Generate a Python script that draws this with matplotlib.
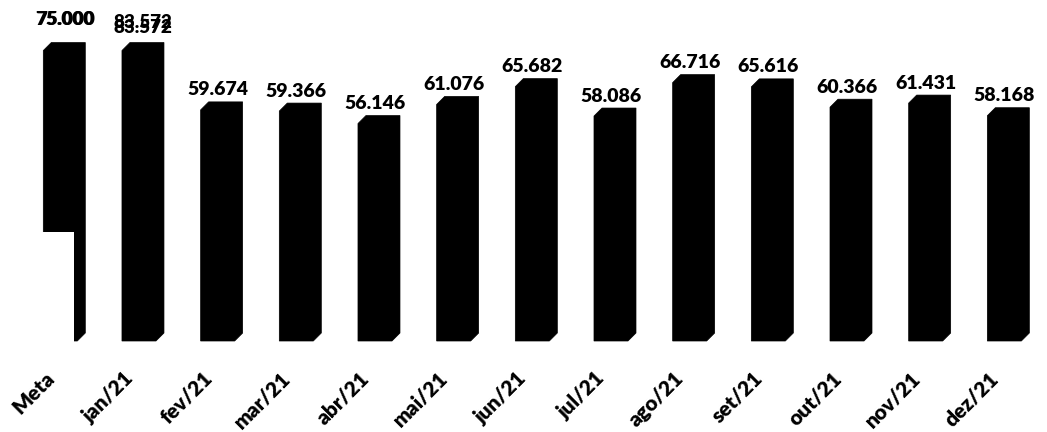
import matplotlib.pyplot as plt
from matplotlib.patches import Polygon, Rectangle

categorias = ['Meta', 'jan/21', 'fev/21', 'mar/21', 'abr/21', 'mai/21', 'jun/21',
              'jul/21', 'ago/21', 'set/21', 'out/21', 'nov/21', 'dez/21']
valores = [75.000, 83.572, 59.674, 59.366, 56.146, 61.076, 65.682,
           58.086, 66.716, 65.616, 60.366, 61.431, 58.168]
rotulos = ['75.000', '83.572', '59.674', '59.366', '56.146', '61.076', '65.682',
           '58.086', '66.716', '65.616', '60.366', '61.431', '58.168']

y_max = 75
fonte = 'Lato'
peso = 'heavy'

fig = plt.figure(figsize=(10.47, 4.32), dpi=100)
ax = fig.add_axes([0, 0, 1, 1])

# escala: 78.67 px por categoria, 3.873 px por unidade
px_x = 78.67
px_y = 3.873
ax.set_xlim(-60.3 / px_x, (1047 - 60.3) / px_x)
ax.set_ylim((333 - 432) / px_y, 333 / px_y)
ax.axis('off')

# profundidade do efeito 3D e largura da face frontal
dx = 8 / px_x
dy = 8 / px_y
w = 34 / px_x

for i, v in enumerate(valores):
    h = min(v, y_max)
    xl, xr = i - w / 2, i + w / 2
    pts = [(xl, -dy), (xl, h - dy), (xl + dx, h), (xr + dx, h), (xr + dx, 0), (xr, -dy)]
    ax.add_patch(Polygon(pts, closed=True, fc='black', ec='black', lw=0.5, zorder=2))

# parte de baixo da coluna Meta fica encoberta
ax.add_patch(Rectangle((-w / 2 - 0.03, -dy - 1), 31 / px_x + 0.03, 26.1 + dy + 1,
                       fc='white', ec='none', zorder=3))

for i, (v, txt) in enumerate(zip(valores, rotulos)):
    if v < y_max:
        ax.text(i, v + 6.5 / px_y, txt, ha='center', va='baseline', fontsize=14,
                fontweight=peso, family=fonte, zorder=4)

# rótulos das colunas cortadas no topo
ax.text(dx / 2, (333 - 25) / px_y, rotulos[0], ha='center', va='baseline',
        fontsize=13.5, fontweight=peso, family=fonte, zorder=4)
ax.text(dx / 2 + 1 / px_x, (333 - 25) / px_y, rotulos[0], ha='center', va='baseline',
        fontsize=13.5, fontweight=peso, family=fonte, zorder=4)
for off in (27.5, 32.7):
    ax.text(1 + dx / 2, (333 - off) / px_y, rotulos[1], ha='center', va='baseline',
            fontsize=13.5, fontweight=peso, family=fonte, zorder=4)

for i, cat in enumerate(categorias):
    ax.text(i - 9 / px_x, (333 - 375) / px_y, cat, rotation=45, rotation_mode='anchor',
            ha='right', va='center', fontsize=15, fontweight=peso, family=fonte)

fig.savefig('out.png', dpi=100, facecolor='white')
